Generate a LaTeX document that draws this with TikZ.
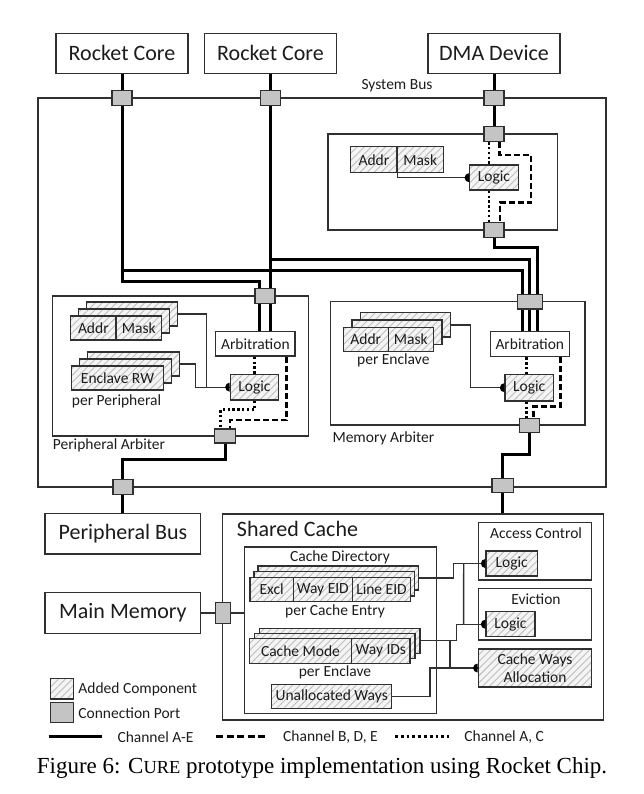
\documentclass[tikz,border=0pt]{standalone}
\usepackage{fontspec}
\setmainfont{Carlito}
\newfontfamily\capfont{Liberation Serif}
\usetikzlibrary{patterns.meta}
\definecolor{linec}{HTML}{303030}
\definecolor{txt}{HTML}{1C1C1C}
\definecolor{portfill}{HTML}{C4C4C4}
\definecolor{hatchbg}{HTML}{F4F4F4}
\definecolor{hatchc}{HTML}{BEBEBE}
\newcommand\bigf{\fontsize{22}{26}\selectfont}
\newcommand\smf{\fontsize{15.5}{18}\selectfont}
\newcommand\hdot[1]{\fill[black] ([yshift=4.5pt]#1.west) arc[start angle=90,end angle=270,radius=4.5pt] -- cycle;}
\pgfdeclarelayer{front}
\pgfsetlayers{main,front}
\begin{document}
\begin{tikzpicture}[x=1pt,y=-1pt,
  boxn/.style={draw=linec,line width=1.3pt,fill=white,inner sep=0pt},
  bigbox/.style={boxn,minimum width=132,minimum height=40,font=\bigf,text=txt},
  arbbox/.style={boxn,line width=1.5pt,minimum width=79.3,minimum height=24.3,font=\smf,text=txt},
  hbox/.style={draw=linec,line width=1.4pt,preaction={fill=hatchbg},
    pattern={Lines[angle=45,distance=5pt,line width=0.9pt]},pattern color=hatchc,
    inner sep=0pt,text=txt,font=\smf},
  portn/.style={draw=linec,line width=1.3pt,fill=portfill,inner sep=0pt,minimum width=20,minimum height=15},
  lbl/.style={inner sep=0pt,font=\smf,text=txt},
  bus/.style={line width=3pt,black},
  chdash/.style={line width=2.6pt,black,dash pattern=on 6pt off 3pt},
  chdot/.style={line width=2.6pt,black,dash pattern=on 2.4pt off 2.4pt},
  legdash/.style={line width=2.6pt,black,dash pattern=on 7pt off 3.5pt},
  legdot/.style={line width=2.6pt,black,dash pattern=on 2.8pt off 3pt},
  wire/.style={line width=1.3pt,linec}]
\useasboundingbox (0,0) rectangle (644,794);

% ---------- top boxes ----------
\node[bigbox] (rc1) at (122,53.3) {Rocket Core};
\node[bigbox] (rc2) at (270.5,53.3) {Rocket Core};
\node[bigbox] (dma) at (494,53.3) {DMA Device};
\node[lbl] (sbus) at (397,86) {System Bus};
\node[boxn,minimum width=568,minimum height=389] (sys) at (322,292.5) {};
\node[boxn,minimum width=229.6,minimum height=96] (dbox) at (442.8,182) {};
\node[boxn,minimum width=255.6,minimum height=140] (pab) at (180.5,366) {};
\node[boxn,minimum width=254.3,minimum height=123.3] (mab) at (457.85,363.35) {};
\node[lbl,anchor=west] (pabl) at (52.7,445.7) {Peripheral Arbiter};
\node[lbl,anchor=west] (mabl) at (332.3,438.3) {Memory Arbiter};

% ---------- DMA filter ----------
\node[hbox,minimum width=46.5,minimum height=26] (da) at (373.9,159.7) {Addr};
\node[hbox,minimum width=46.1,minimum height=26] (dm) at (420.2,159.7) {Mask};
\node[hbox,minimum width=48.5,minimum height=25] (dl) at (494,177.7) {Logic};

% ---------- peripheral arbiter ----------
\node[hbox,minimum width=91,minimum height=24] (pam3) at (132.2,314) {};
\node[hbox,minimum width=91,minimum height=24] (pam2) at (124.2,321) {};
\node[hbox,minimum width=45.3,minimum height=24] (paa) at (93.35,328) {Addr};
\node[hbox,minimum width=45.7,minimum height=24] (pam) at (138.85,328) {Mask};
\node[hbox,minimum width=91.6,minimum height=24] (per3) at (133.5,364) {};
\node[hbox,minimum width=91.6,minimum height=24] (per2) at (125.5,371) {};
\node[hbox,minimum width=91.6,minimum height=24] (per) at (117.5,378) {Enclave RW};
\node[lbl,anchor=west] (ppl) at (71.7,401) {per Peripheral};
\node[arbbox] (parb) at (255.35,343.85) {Arbitration};
\node[hbox,minimum width=48.3,minimum height=25.7] (plog) at (254.5,387.2) {Logic};

% ---------- memory arbiter ----------
\node[hbox,minimum width=90,minimum height=24.4] (mam3) at (405.3,324.9) {};
\node[hbox,minimum width=90,minimum height=24.4] (mam2) at (396.8,332.2) {};
\node[hbox,minimum width=45,minimum height=24.4] (maa) at (365.8,339.5) {Addr};
\node[hbox,minimum width=45,minimum height=24.4] (mamk) at (410.8,339.5) {Mask};
\node[lbl] (mpe) at (393.3,360) {per Enclave};
\node[arbbox,minimum width=79,minimum height=25] (marb) at (529.8,344.2) {Arbitration};
\node[hbox,minimum width=48.3,minimum height=26.7] (mlog) at (529.2,387.7) {Logic};

% ---------- lower part ----------
\node[bigbox,minimum width=155.7,minimum height=40.7] (pbus) at (122.9,533.7) {Peripheral Bus};
\node[bigbox,minimum width=155.7,minimum height=40.7] (mm) at (122.9,613) {Main Memory};
\node[boxn,minimum width=380.6,minimum height=206] (sc) at (413,617) {};
\node[lbl,font=\bigf,anchor=west] (scl) at (236.7,529.3) {Shared Cache};
\node[boxn,minimum width=191.9,minimum height=166.3] (cdir) at (340.25,630.15) {};
\node[lbl] (cdl) at (340,557.3) {Cache Directory};
\node[hbox,minimum width=160.7,minimum height=24.2] (ex3) at (338.35,578) {};
\node[hbox,minimum width=160.7,minimum height=24.2] (ex2) at (334.35,583.8) {};
\node[hbox,minimum width=43.3,minimum height=24.2] (exa) at (271.65,589.6) {Excl};
\node[hbox,minimum width=59,minimum height=24.2] (exb) at (322.8,589.6) {Way EID};
\node[hbox,minimum width=58.4,minimum height=24.2] (exc) at (381.5,589.6) {Line EID};
\node[lbl] (pce) at (335,611) {per Cache Entry};
\node[hbox,minimum width=160.7,minimum height=25] (cm3) at (339.65,640.8) {};
\node[hbox,minimum width=160.7,minimum height=25] (cm2) at (334.65,645.8) {};
\node[hbox,minimum width=102.4,minimum height=25] (cma) at (300.5,650.8) {Cache Mode};
\node[hbox,minimum width=58.3,minimum height=25] (cmb) at (380.85,650.8) {Way IDs};
\node[lbl] (cpe) at (335,672.3) {per Enclave};
\node[hbox,minimum width=120,minimum height=24] (unal) at (331.7,696.3) {Unallocated Ways};
\node[boxn,minimum width=113.4,minimum height=57.3] (acc) at (535,551.35) {};
\node[lbl] (accl) at (536,532.7) {Access Control};
\node[hbox,minimum width=51.3,minimum height=25] (alog) at (511.7,563.5) {Logic};
\node[boxn,minimum width=113.4,minimum height=51.7] (evi) at (535,614.15) {};
\node[lbl] (evil) at (536,599) {Eviction};
\node[hbox,minimum width=49,minimum height=25] (elog) at (510.5,624.2) {Logic};
\node[hbox,minimum width=113.4,minimum height=37.7,align=center] (cwa) at (535,668) {Cache Ways\\Allocation};

% ---------- ports (front layer) ----------
\begin{pgfonlayer}{front}
\node[portn] (p1) at (122,98) {};
\node[portn] (p2) at (270.5,98) {};
\node[portn] (p3) at (494,98) {};
\node[portn] (dtop) at (494,134) {};
\node[portn] (dbot) at (494,230) {};
\node[portn] (ptop) at (265,296) {};
\node[portn,minimum width=25,minimum height=14.5] (mtop) at (529.8,301.7) {};
\node[portn,minimum width=21,minimum height=14] (pbot) at (225,436) {};
\node[portn,minimum height=14.5] (mbot) at (529.8,425.5) {};
\node[portn] (pout) at (122.9,486.7) {};
\node[portn,minimum width=21.5,minimum height=14] (mout) at (502.7,485.5) {};
\node[portn,minimum width=15,minimum height=21] (mmport) at (222.7,613) {};
\end{pgfonlayer}

% ---------- buses ----------
\draw[bus] (rc1.south) -- ++(0,207.7) -| ([xshift=4.15]parb.north);
\coordinate (j1) at (122,270);
\draw[bus] (j1) -| ([xshift=-7.5]marb.north);
\draw[bus] (rc2.south) -- ([xshift=15.15]parb.north);
\coordinate (j2) at (270.5,259);
\draw[bus] (j2) -| (marb.north);
\draw[bus] (dma.south) -- (dtop.center);
\draw[bus] (dbot.center) -- ++(0,17.3) -| ([xshift=7.5]marb.north);
\draw[bus] (pbot.center) -- ++(0,23.3) -| (pbus.north);
\draw[bus] (mbot.center) -- ++(0,28.8) -| ([xshift=89.7]sc.north);

% ---------- channels ----------
\draw[chdot] ([xshift=-5]dtop.south) -- ([xshift=-5]dl.north);
\draw[chdot] ([xshift=-5]dl.south) -- ([xshift=-5]dbot.north);
\draw[chdash] ([xshift=5.5]dtop.south) -- ++(0,12.8) -- ++(31.5,0) -- ++(0,47.4) -| ([xshift=6]dbot.north);
\draw[chdot] (parb.south -| plog.north) -- (plog.north);
\draw[chdot] (plog.south) -- ++(0,9) -| ([xshift=-4.3]pbot.north);
\draw[chdash] ([xshift=31.35]parb.south) -- ++(0,63.3) -| ([xshift=5]pbot.north);
\draw[chdot] ([xshift=-3.1]marb.south) -- ([xshift=-2.5]mlog.north);
\draw[chdot] ([xshift=-2.5]mlog.south) -- ([xshift=-3.1]mbot.north);
\draw[chdash] ([xshift=30.9]marb.south) -- ++(0,49) -| ([xshift=3.5]mbot.north);

% ---------- signal wires ----------
\draw[wire] (da.south east) |- (dl.west);
\draw[wire] (pam3.east) -- ++(28.3,0) |- (plog.west);
\draw[wire] (per3.east) -- ++(15.5,0) |- (plog.west);
\draw[wire] (mam3.east) -- ++(19.7,0) |- (mlog.west);
\draw[wire] (ex3.east) -- ++(34,0) |- (alog.west);
\draw[wire] ([xshift=-21.7]alog.west) -- ([xshift=-21.7]elog.west);
\draw[wire] (cm3.east) -- ++(35.7,0) |- (elog.west);
\coordinate (j3) at ([xshift=29.3]cm3.east);
\draw[wire] (j3) -- (j3 |- cwa.west);
\draw[wire] (unal.east) -- ++(37.6,0) |- (cwa.west);
\draw[wire] (mm.east) -- (mmport.east -| cdir.west);

\hdot{dl}\hdot{plog}\hdot{mlog}\hdot{alog}\hdot{elog}\hdot{cwa}

% ---------- legend ----------
\node[hbox,minimum width=23,minimum height=20.7] (lg1) at (61.8,688.7) {};
\node[lbl,anchor=west] (lg1t) at (78.2,689.3) {Added Component};
\node[portn,minimum width=23,minimum height=20] (lg2) at (61.8,712.7) {};
\node[lbl,anchor=west] (lg2t) at (78.2,713.3) {Connection Port};
\coordinate (ls1) at (48.6,736.7); \coordinate (ls2) at (102,736.7);
\draw[bus] (ls1) -- (ls2);
\node[lbl,anchor=west] (lt1) at (117.3,736.7) {Channel A-E};
\coordinate (ld1) at (216,736.7); \coordinate (ld2) at (268.3,736.7);
\draw[legdash] (ld1) -- (ld2);
\node[lbl,anchor=west] (lt2) at (283,736.7) {Channel B, D, E};
\coordinate (lo1) at (395,736.7); \coordinate (lo2) at (448.6,736.7);
\draw[legdot] (lo1) -- (lo2);
\node[lbl,anchor=west] (lt3) at (464.2,736.7) {Channel A, C};

% ---------- caption ----------
\node[inner sep=0pt,font=\capfont\fontsize{23}{26}\selectfont,text=black] (cap) at (322,768.3)
  {Figure 6: C{\fontsize{18.4}{20}\selectfont URE} prototype implementation using Rocket Chip.};
\end{tikzpicture}
\end{document}
